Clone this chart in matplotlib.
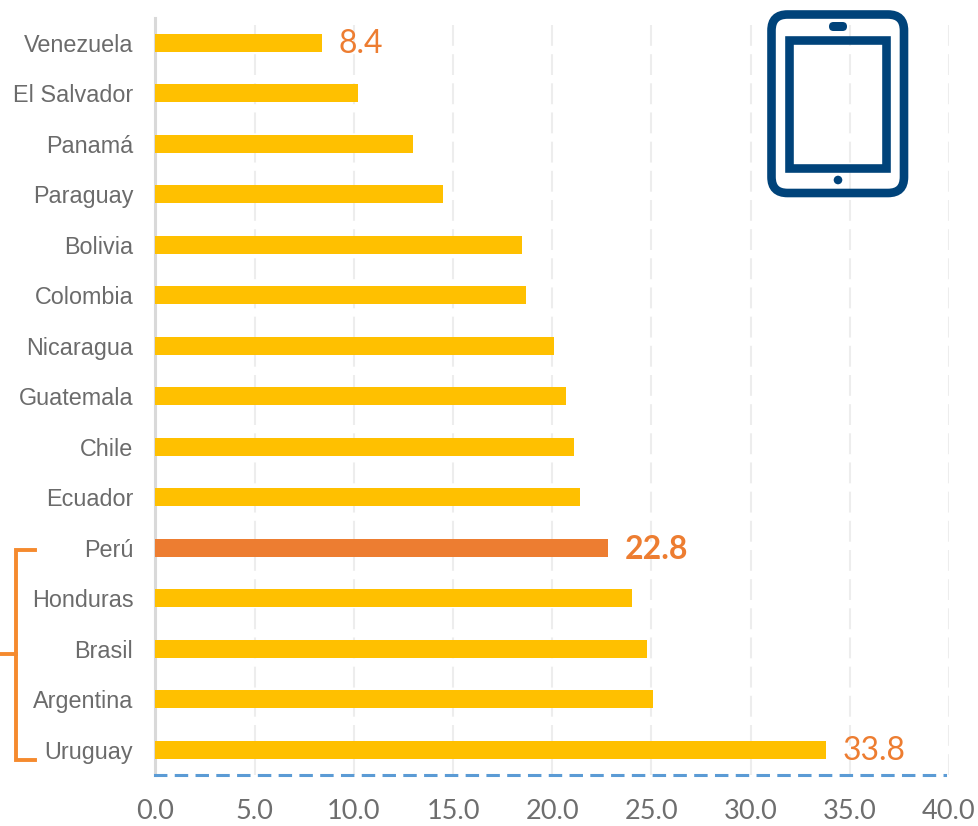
import matplotlib
matplotlib.use("Agg")
import matplotlib.pyplot as plt
from matplotlib.patches import Circle, FancyBboxPatch, Rectangle

plt.rcParams["font.family"] = ["Liberation Sans", "DejaVu Sans"]

COUNTRIES = ["Venezuela", "El Salvador", "Panamá", "Paraguay", "Bolivia", "Colombia",
             "Nicaragua", "Guatemala", "Chile", "Ecuador", "Perú", "Honduras",
             "Brasil", "Argentina", "Uruguay"]
VALUES = [8.4, 10.2, 13.0, 14.5, 18.5, 18.7, 20.1, 20.7, 21.1, 21.4, 22.8, 24.0, 24.8, 25.1, 33.8]
LABELLED = ["Venezuela", "Perú", "Uruguay"]
XTICKS = [0, 5, 10, 15, 20, 25, 30, 35, 40]

YELLOW = "#FFC000"
ORANGE = "#ED7D31"
BRACKET = "#F58A2E"
NAVY = "#00437A"
W, H = 979, 826

fig = plt.figure(figsize=(W / 100, H / 100), dpi=100)
ax = fig.add_axes([155.5 / W, 1 - 775 / H, 793.5 / W, 757.5 / H])

colors = [ORANGE if c == "Perú" else YELLOW for c in COUNTRIES]
ax.barh(COUNTRIES, VALUES, height=0.35, color=colors, zorder=3)
ax.set_xlim(0, 40)
ax.set_ylim(14.5, -0.5)

for c, v in zip(COUNTRIES, VALUES):
    if c in LABELLED:
        ax.text(v + 0.85, COUNTRIES.index(c) + 0.03, f"{v:.1f}", color=ORANGE, fontsize=23,
                family="Lato", weight="bold" if c == "Perú" else "normal",
                ha="left", va="center", zorder=4)

ax.set_xticks(XTICKS)
ax.set_xticklabels([f"{t:.1f}" for t in XTICKS], fontsize=19.5, family="Lato", color="#6E6E6E")
ax.tick_params(axis="x", length=0, pad=17.5)
ax.tick_params(axis="y", length=0, pad=16, labelsize=16.8, labelcolor="#6B6B6B")
ax.grid(axis="x", color="#EDEDED", lw=1.5, linestyle=(0, (10, 4)), zorder=0)

for side in ["top", "right"]:
    ax.spines[side].set_visible(False)
ax.spines["left"].set_color("#D9D9D9")
ax.spines["left"].set_linewidth(2.2)
ax.spines["bottom"].set_color("#5B9BD5")
ax.spines["bottom"].set_linewidth(2.2)
ax.spines["bottom"].set_linestyle((0, (3.4, 3.4)))
ax.spines["bottom"].set_bounds(0, 39.8)

# overlay in pixel coordinates for the bracket and the tablet icon
deco = fig.add_axes([0, 0, 1, 1], zorder=5)
deco.set_xlim(0, W)
deco.set_ylim(H, 0)
deco.axis("off")

deco.plot([35, 16, 16, 35], [550, 550, 760, 760], color=BRACKET, lw=2.8, solid_joinstyle="miter")
deco.plot([0, 16], [654, 654], color=BRACKET, lw=2.8)

deco.add_patch(FancyBboxPatch((771.5 + 16, 14.5 + 16), 132.5 - 32, 178.5 - 32,
                              boxstyle="round,pad=16,rounding_size=16",
                              fill=False, ec=NAVY, lw=6.2))
deco.add_patch(Rectangle((789.5, 39.5), 97, 128, fill=False, ec=NAVY, lw=6.2))
deco.add_patch(FancyBboxPatch((833.5, 26.5), 9, 0, boxstyle="round,pad=4.5,rounding_size=4.5",
                              fc=NAVY, ec="none"))
deco.add_patch(Circle((838, 180), 4.3, fc=NAVY, ec="none"))

fig.savefig("out.png", dpi=100)
